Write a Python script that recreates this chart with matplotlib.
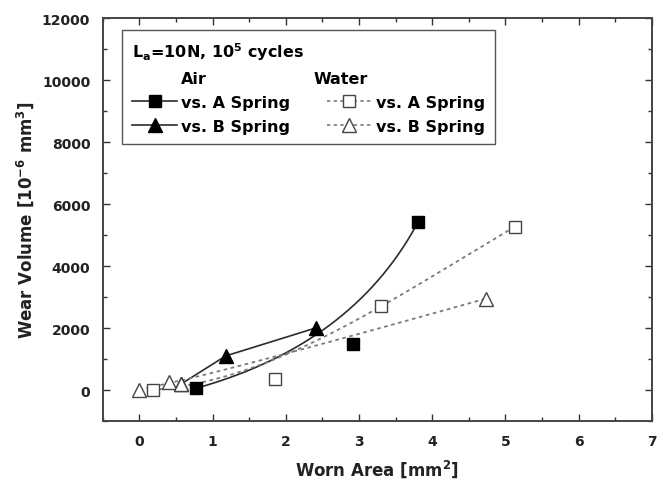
import numpy as np
import matplotlib
matplotlib.use("Agg")
import matplotlib.pyplot as plt
from matplotlib.lines import Line2D
from math import comb

plt.rcParams['font.family'] = ['DejaVu Sans']
plt.rcParams['font.weight'] = 'bold'
plt.rcParams['mathtext.default'] = 'bf'

# ---- data ----
air_a_x = [0.78, 2.92, 3.81]
air_a_y = [60, 1470, 5430]
air_b_x = [0.57, 1.18, 2.42]
air_b_y = [194, 1100, 2010]
water_a_x = [0.18, 1.85, 3.30, 5.13]
water_a_y = [0, 340, 2700, 5270]
water_b_x = [0.0, 0.41, 0.57, 4.73]
water_b_y = [0, 245, 194, 2945]

x_ticks = [0, 1, 2, 3, 4, 5, 6, 7]
y_ticks = [0, 2000, 4000, 6000, 8000, 10000, 12000]


def bspline(xs, ys, n=200):
    # Bezier (B-spline) curve using the data points as control points
    xs = np.asarray(xs, float)
    ys = np.asarray(ys, float)
    k = len(xs) - 1
    t = np.linspace(0, 1, n)
    bx = np.zeros_like(t)
    by = np.zeros_like(t)
    for i in range(k + 1):
        b = comb(k, i) * t**i * (1 - t)**(k - i)
        bx += b * xs[i]
        by += b * ys[i]
    return bx, by


fig = plt.figure(figsize=(6.63, 4.89), dpi=100)
ax = fig.add_axes([0.155, 0.137, 0.828, 0.824])

dark = '#2b2b2b'
grey = '#7a7a7a'
ms_sq = 8
ms_tr = 9.5

# Air lines (solid)
cx, cy = bspline(air_a_x, air_a_y)
ax.plot(cx, cy, '-', color=dark, lw=1.2, zorder=2)
ax.plot(air_b_x, air_b_y, '-', color=dark, lw=1.2, zorder=2)
# Water lines (dotted)
cx, cy = bspline(water_a_x, water_a_y)
ax.plot(cx, cy, color=grey, lw=1.3, ls=(0, (2, 2)), zorder=2)
cx, cy = bspline(water_b_x, water_b_y)
ax.plot(cx, cy, color=grey, lw=1.3, ls=(0, (2, 2)), zorder=2)

# markers
ax.plot(air_a_x, air_a_y, 's', ms=ms_sq, mfc='black', mec='black', zorder=3)
ax.plot(air_b_x, air_b_y, '^', ms=ms_tr, mfc='black', mec='black', zorder=3)
ax.plot(water_a_x, water_a_y, 's', ms=ms_sq, mfc='white', mec='#444444', mew=1.0, zorder=4)
ax.plot(water_b_x, water_b_y, '^', ms=ms_tr, mfc='white', mec='#444444', mew=1.0, zorder=4)

ax.set_xlim(-0.5, 7)
ax.set_ylim(-1000, 12000)
ax.set_xticks(x_ticks)
ax.set_yticks(y_ticks)
ax.set_xticks(np.arange(-0.5, 7.01, 0.5), minor=True)
ax.set_yticks(np.arange(-1000, 12001, 1000), minor=True)
ax.tick_params(which='both', direction='in', top=True, right=True, color='#333333', width=1.0)
ax.tick_params(which='major', length=5, labelsize=10, pad=9, labelcolor='#222222')
ax.tick_params(which='minor', length=3)
for s in ax.spines.values():
    s.set_color('#444444')
    s.set_linewidth(1.4)

ax.set_xlabel('Worn Area [mm$^{2}$]', fontsize=12, fontweight='bold', labelpad=7, color='#222222')
ax.set_ylabel('Wear Volume [10$^{-6}$ mm$^{3}$]', fontsize=12, fontweight='bold', labelpad=4, color='#222222')

# legend
blank = Line2D([], [], ls='none')
h_aa = Line2D([], [], color=dark, lw=1.2, marker='s', ms=ms_sq, mfc='black', mec='black')
h_ab = Line2D([], [], color=dark, lw=1.2, marker='^', ms=ms_tr, mfc='black', mec='black')
h_wa = Line2D([], [], color=grey, lw=1.2, ls=(0, (2, 2)), marker='s', ms=ms_sq, mfc='white', mec='#444444')
h_wb = Line2D([], [], color=grey, lw=1.2, ls=(0, (2, 2)), marker='^', ms=ms_tr, mfc='white', mec='#444444')
leg = ax.legend([blank, h_aa, h_ab, blank, h_wa, h_wb],
                ['Air', 'vs. A Spring', 'vs. B Spring', 'Water', 'vs. A Spring', 'vs. B Spring'],
                ncol=2, loc='upper left', bbox_to_anchor=(0.035, 0.97), borderaxespad=0,
                title='L$_{a}$=10N, 10$^{5}$ cycles', alignment='left',
                prop={'weight': 'bold', 'size': 11.5}, title_fontproperties={'weight': 'bold', 'size': 11.5},
                frameon=True, fancybox=False, edgecolor='#555555', framealpha=1,
                handlelength=2.8, handletextpad=0.25, columnspacing=2.3, labelspacing=0.55,
                borderpad=0.65)
leg.get_frame().set_linewidth(1.0)
texts = leg.get_texts()
texts[3].set_position((-62, 0))

fig.savefig('out.png', dpi=100)
